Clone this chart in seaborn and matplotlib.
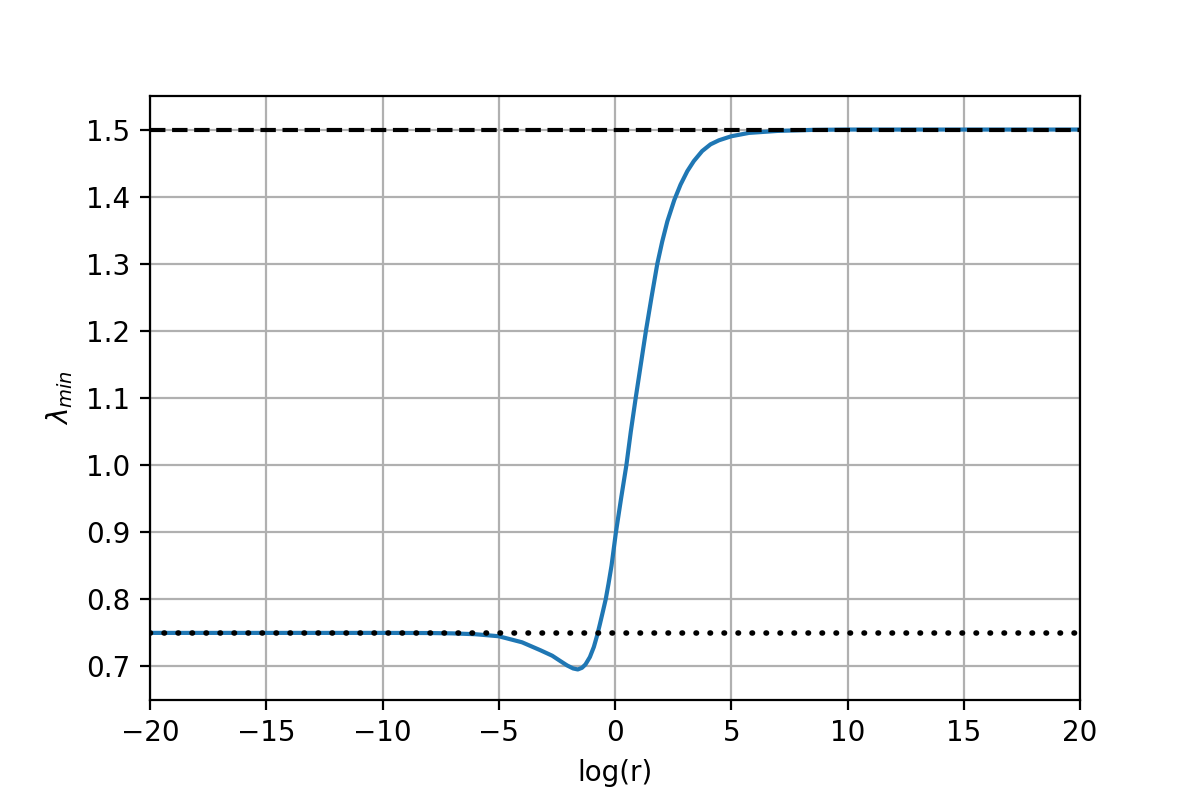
import numpy as np
import matplotlib
matplotlib.use('Agg')
import matplotlib.pyplot as plt
import seaborn as sns

# points
log_r = [-20, -15, -10, -8, -7, -6, -5, -4, -3.2, -2.7, -2.35, -2.06, -1.8, -1.6,
         -1.42, -1.27, -1.08, -0.91, -0.77, -0.65, -0.52, -0.40, -0.28, -0.15, 0.04,
         0.26, 0.49, 0.68, 0.89, 1.11, 1.33, 1.57, 1.82, 2.03, 2.25, 2.55, 2.82,
         3.11, 3.39, 3.75, 4.11, 4.47, 5.0, 5.76, 7.0, 8.5, 10, 15, 20]
lambda_min = [0.75, 0.75, 0.75, 0.7498, 0.7493, 0.748, 0.745, 0.736, 0.724, 0.716,
              0.708, 0.7015, 0.697, 0.6955, 0.698, 0.703, 0.714, 0.729, 0.746, 0.763,
              0.782, 0.80, 0.823, 0.85, 0.90, 0.95, 1.00, 1.05, 1.10, 1.15, 1.20,
              1.25, 1.30, 1.333, 1.363, 1.395, 1.418, 1.438, 1.453, 1.468, 1.478,
              1.484, 1.490, 1.495, 1.498, 1.4995, 1.5, 1.5, 1.5]
upper_limit = 1.5
lower_limit = 0.75

fig, ax = plt.subplots(figsize=(6, 4), dpi=200)
fig.subplots_adjust(left=0.125, right=0.9, top=0.88, bottom=0.125)

sns.lineplot(x=log_r, y=lambda_min, ax=ax, color='C0', linewidth=1.5)
ax.axhline(upper_limit, color='k', linestyle='--', linewidth=1.5)
ax.axhline(lower_limit, color='k', linestyle=(0, (0.1, 2.42)),
           dash_capstyle='round', linewidth=2)

ax.set_xlim(-20, 20)
ax.set_ylim(0.65, 1.55)
ax.set_xlabel('log(r)')
ax.set_ylabel(r'$\lambda_{min}$')
ax.grid(True)

fig.savefig('out.png', dpi=200)
